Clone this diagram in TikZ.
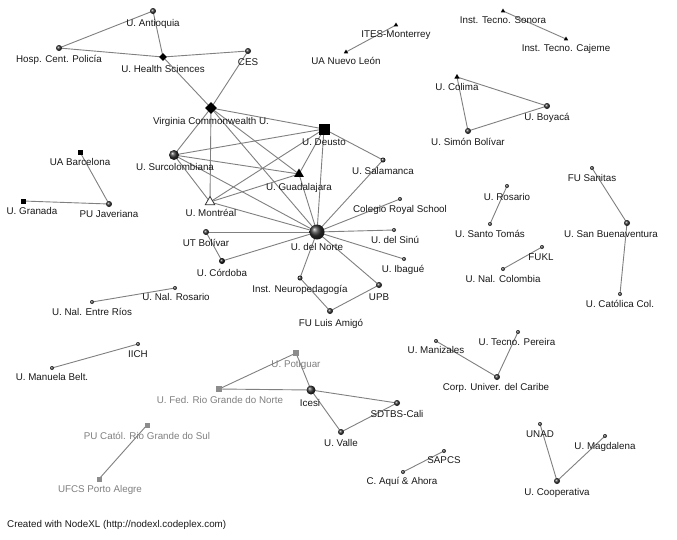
\documentclass[tikz,border=0pt]{standalone}
\usepackage{fontspec}
\setmainfont{Liberation Sans}
\usetikzlibrary{shapes.geometric,backgrounds}
\tikzset{
  edge/.style={draw=black!50, line width=0.9pt},
  vball/.style={circle, inner sep=0pt, minimum size=#1, shading=ball, ball color=black!80},
  vdark/.style={circle, inner sep=0pt, minimum size=#1, shading=ball, ball color=black!95},
  vdiam/.style={diamond, fill=black, inner sep=0pt, minimum size=#1},
  vsq/.style={rectangle, fill=black, inner sep=0pt, minimum size=#1},
  vgsq/.style={rectangle, fill=black!45, inner sep=0pt, minimum size=#1},
  vtri/.style={regular polygon, regular polygon sides=3, fill=black, inner sep=0pt, minimum size=#1},
  vtrih/.style={regular polygon, regular polygon sides=3, draw=black!80, fill=white, line width=0.8pt, inner sep=0pt, minimum size=#1},
  lbl/.style={font=\fontsize{9.8}{11}\selectfont, text=black!90, inner sep=0pt, text height=7pt, text depth=0pt},
  glbl/.style={lbl, text=black!50}
}
\begin{document}
\begin{tikzpicture}[x=1pt,y=-1pt]
\useasboundingbox (0,0) rectangle (677,539);

% vertices
\node[vball=6pt] (ant) at (153,11) {};
\node[vball=6pt] (hosp) at (59,48) {};
\node[vdiam=8pt] (uhs) at (163,57) {};
\node[vball=6pt] (ces) at (248,51) {};
\node[vdiam=12pt] (vcu) at (211,108) {};
\node[vtri=5pt] (ites) at (396,25) {};
\node[vtri=5pt] (uanl) at (346,52) {};
\node[vtri=5pt] (son) at (503,11) {};
\node[vtri=5pt] (caj) at (566,39) {};
\node[vtri=6pt] (col) at (457,77) {};
\node[vball=6pt] (boy) at (547,106) {};
\node[vball=6pt] (usb) at (468,131) {};
\node[vsq=11pt] (deu) at (324,129) {};
\node[vsq=5pt] (uab) at (80,152) {};
\node[vsq=5pt] (gra) at (23,201) {};
\node[vball=6pt] (puj) at (109,204) {};
\node[vball=10pt] (sur) at (174,155) {};
\node[vtrih=11pt] (mon) at (210,202) {};
\node[vball=6pt] (utb) at (206,232) {};
\node[vdark=6pt] (cor) at (222,261) {};
\node[vball=4pt] (unr) at (175,288) {};
\node[vball=4pt] (uner) at (92,302) {};
\node[vball=5pt] (sal) at (383,160) {};
\node[vtri=11pt] (gua) at (299,174) {};
\node[vball=4pt] (crs) at (400,199) {};
\node[vball=15pt] (nor) at (317,232) {};
\node[vball=4pt] (sin) at (394,230) {};
\node[vball=4pt] (iba) at (404,259) {};
\node[vball=5pt] (neu) at (300,278) {};
\node[vball=6pt] (upb) at (379,285) {};
\node[vball=6pt] (fla) at (330,311) {};
\node[vball=4pt] (ros) at (507,186) {};
\node[vball=4pt] (ust) at (490,224) {};
\node[vball=4pt] (fukl) at (542,247) {};
\node[vball=4pt] (unc) at (503,269) {};
\node[vball=4pt] (fus) at (592,168) {};
\node[vball=6pt] (usbv) at (627,223) {};
\node[vball=4pt] (ucc) at (620,294) {};
\node[vball=4pt] (iich) at (138,344) {};
\node[vball=4pt] (umb) at (52,368) {};
\node[vgsq=6pt] (pot) at (296,353) {};
\node[vgsq=6pt] (frgn) at (219,389) {};
\node[vball=9pt] (ice) at (311,390) {};
\node[vgsq=5pt] (pucr) at (147,425) {};
\node[vgsq=5pt] (ufcs) at (99,479) {};
\node[vball=4pt] (man) at (436,341) {};
\node[vball=4pt] (per) at (518,332) {};
\node[vball=6pt] (cuc) at (497,377) {};
\node[vball=6pt] (sdt) at (397,403) {};
\node[vball=6pt] (val) at (341,432) {};
\node[vball=4pt] (unad) at (540,424) {};
\node[vball=4pt] (mag) at (605,436) {};
\node[vball=6pt] (coop) at (557,481) {};
\node[vball=4pt] (sap) at (444,451) {};
\node[vball=4pt] (caa) at (403,472) {};

% edges
\begin{scope}[on background layer]
\fill[white] (0,0) rectangle (677,539);
\foreach \a/\b in {ant/hosp, ant/uhs, hosp/uhs, uhs/ces, uhs/vcu, ces/vcu,
  vcu/deu, vcu/sur, vcu/mon, vcu/gua, vcu/nor,
  sur/deu, sur/gua, sur/mon, sur/nor,
  mon/deu, mon/gua, mon/nor,
  deu/gua, deu/nor, deu/sal, gua/nor,
  nor/sal, nor/crs, nor/utb, nor/sin, nor/iba, nor/cor, nor/neu, nor/upb,
  utb/cor, upb/fla, neu/fla,
  ites/uanl, son/caj, col/boy, col/usb, usb/boy,
  uab/puj, gra/puj, unr/uner,
  ros/ust, fukl/unc, fus/usbv, usbv/ucc,
  iich/umb, pot/frgn, pot/ice, frgn/ice, pucr/ufcs, ice/sdt, ice/val, val/sdt,
  man/cuc, per/cuc, unad/coop, mag/coop, sap/caa}
  \draw[edge] (\a.center) -- (\b.center);
\end{scope}

% labels
\node[lbl] (l-ant) at (153,23) {U. Antioquia};
\node[lbl] (l-hosp) at (59,59) {Hosp. Cent. Policía};
\node[lbl] (l-uhs) at (163,69) {U. Health Sciences};
\node[lbl] (l-ces) at (248,62) {CES};
\node[lbl] (l-vcu) at (211,121) {Virginia Commonwealth U.};
\node[lbl] (l-ites) at (396,34) {ITES-Monterrey};
\node[lbl] (l-uanl) at (346,61) {UA Nuevo León};
\node[lbl] (l-son) at (503,20) {Inst. Tecno. Sonora};
\node[lbl] (l-caj) at (566,48) {Inst. Tecno. Cajeme};
\node[lbl] (l-col) at (457,87) {U. Colima};
\node[lbl] (l-boy) at (547,117) {U. Boyacá};
\node[lbl] (l-usb) at (468,142) {U. Simón Bolívar};
\node[lbl] (l-deu) at (324,142) {U. Deusto};
\node[lbl] (l-uab) at (80,162) {UA Barcelona};
\node[lbl] (l-gra) at (32,211) {U. Granada};
\node[lbl] (l-puj) at (109,214) {PU Javeriana};
\node[lbl] (l-sur) at (175,167) {U. Surcolombiana};
\node[lbl] (l-mon) at (211,213) {U. Montréal};
\node[lbl] (l-utb) at (206,243) {UT Bolívar};
\node[lbl] (l-cor) at (222,273) {U. Córdoba};
\node[lbl] (l-unr) at (176,297) {U. Nal. Rosario};
\node[lbl] (l-uner) at (92,312) {U. Nal. Entre Ríos};
\node[lbl] (l-sal) at (383,171) {U. Salamanca};
\node[lbl] (l-gua) at (299,187) {U. Guadalajara};
\node[lbl] (l-crs) at (400,209) {Colegio Royal School};
\node[lbl] (l-nor) at (317,247) {U. del Norte};
\node[lbl] (l-sin) at (395,240) {U. del Sinú};
\node[lbl] (l-iba) at (403,269) {U. Ibagué};
\node[lbl] (l-neu) at (300,289) {Inst. Neuropedagogía};
\node[lbl] (l-upb) at (379,297) {UPB};
\node[lbl] (l-fla) at (331,323) {FU Luis Amigó};
\node[lbl] (l-ros) at (507,197) {U. Rosario};
\node[lbl] (l-ust) at (490,234) {U. Santo Tomás};
\node[lbl] (l-fukl) at (541,257) {FUKL};
\node[lbl] (l-unc) at (503,279) {U. Nal. Colombia};
\node[lbl] (l-fus) at (592,178) {FU Sanitas};
\node[lbl] (l-usbv) at (611,234) {U. San Buenaventura};
\node[lbl] (l-ucc) at (620,304) {U. Católica Col.};
\node[lbl] (l-iich) at (138,354) {IICH};
\node[lbl] (l-umb) at (52,377) {U. Manuela Belt.};
\node[glbl] (l-pot) at (296,364) {U. Potiguar};
\node[glbl] (l-frgn) at (220,400) {U. Fed. Rio Grande do Norte};
\node[lbl] (l-ice) at (310,403) {Icesi};
\node[glbl] (l-pucr) at (147,436) {PU Catól. Rio Grande do Sul};
\node[glbl] (l-ufcs) at (100,489) {UFCS Porto Alegre};
\node[lbl] (l-man) at (436,350) {U. Manizales};
\node[lbl] (l-per) at (517,342) {U. Tecno. Pereira};
\node[lbl] (l-cuc) at (496,387) {Corp. Univer. del Caribe};
\node[lbl] (l-sdt) at (397,414) {SDTBS-Cali};
\node[lbl] (l-val) at (341,443) {U. Valle};
\node[lbl] (l-unad) at (540,434) {UNAD};
\node[lbl] (l-mag) at (605,446) {U. Magdalena};
\node[lbl] (l-coop) at (557,492) {U. Cooperativa};
\node[lbl] (l-sap) at (444,460) {SAPCS};
\node[lbl] (l-caa) at (402,481) {C. Aquí \& Ahora};
\node[lbl, anchor=west] (credit) at (7,524) {Created with NodeXL (http://nodexl.codeplex.com)};
\end{tikzpicture}
\end{document}
